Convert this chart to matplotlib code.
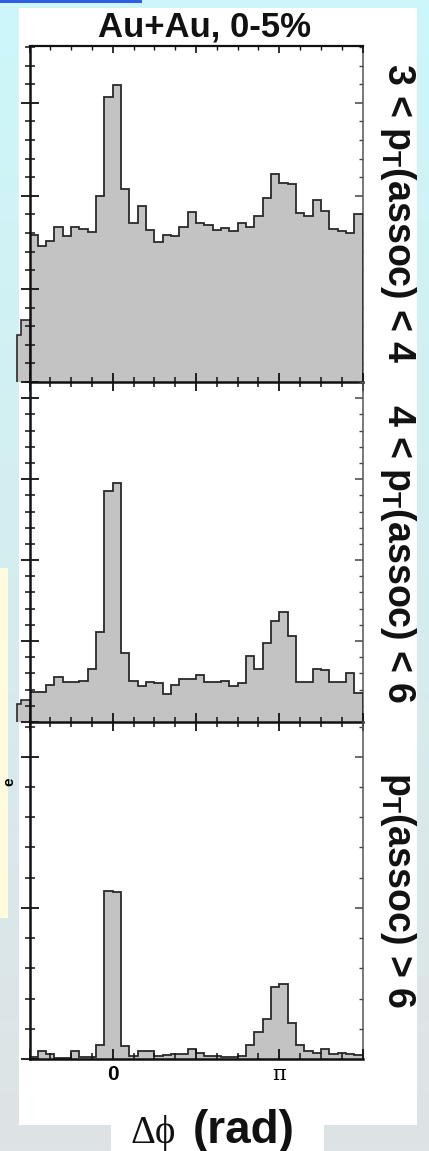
import numpy as np
import matplotlib.pyplot as plt
from matplotlib.patches import Rectangle
from matplotlib.ticker import MultipleLocator

# per-trigger yields, 40 bins of pi/20 from -pi/2 to 3pi/2
yield_3_4 = [1.58, 1.46, 1.52, 1.66, 1.57, 1.67, 1.64, 1.61, 2.00, 3.06,
             3.19, 2.07, 1.71, 1.89, 1.63, 1.50, 1.58, 1.57, 1.66, 1.83,
             1.71, 1.69, 1.63, 1.65, 1.62, 1.71, 1.67, 1.78, 1.98, 2.23,
             2.14, 2.13, 1.82, 1.78, 1.96, 1.84, 1.64, 1.62, 1.60, 1.80]
yield_4_6 = [0.37, 0.37, 0.46, 0.55, 0.49, 0.50, 0.51, 0.65, 1.11, 2.85,
             2.95, 0.85, 0.51, 0.45, 0.50, 0.48, 0.35, 0.46, 0.53, 0.53,
             0.58, 0.49, 0.49, 0.51, 0.44, 0.48, 0.82, 0.65, 0.97, 1.25,
             1.36, 1.06, 0.50, 0.50, 0.65, 0.64, 0.49, 0.50, 0.60, 0.36]
yield_6 = [0.015, 0.055, 0.035, 0.005, 0.005, 0.05, 0.01, 0.01, 0.093, 1.115,
           1.104, 0.085, 0.02, 0.055, 0.055, 0.02, 0.026, 0.031, 0.031, 0.066,
           0.038, 0.02, 0.02, 0.015, 0.015, 0.02, 0.093, 0.181, 0.263, 0.475,
           0.497, 0.236, 0.093, 0.055, 0.042, 0.066, 0.033, 0.042, 0.033, 0.026]

# pieces of the neighbouring (cut off) panel left of the axes
side_1 = [0.50, 0.67]
side_2 = [0.22, 0.27]

panel_labels = ['3 < p$\\mathregular{_T}$(assoc) < 4',
                '4 < p$\\mathregular{_T}$(assoc) < 6',
                'p$\\mathregular{_T}$(assoc) > 6']
y_top = [3.61, 4.2, 2.23]
x_ticklabels = ['', '0', '', 'π', '']

W, H = 429, 1151
fig = plt.figure(figsize=(W / 100, H / 100), dpi=100)

def fx(px):
    return px / W

def fy(py):
    return 1 - py / H

def fig_rect(x0, y0, x1, y1, color, z=-5):
    fig.add_artist(Rectangle((fx(x0), fy(y1)), fx(x1) - fx(x0), fy(y0) - fy(y1),
                             transform=fig.transFigure, facecolor=color,
                             lw=0, zorder=z))

# slide background
bg = fig.add_axes([0, 0, 1, 1], zorder=-10)
c_top = np.array([204, 247, 250]) / 255
c_bot = np.array([222, 227, 229]) / 255
t = np.linspace(0, 1, 256)[:, None]
grad = c_top + (c_bot - c_top) * t
bg.imshow(grad[:, None, :], aspect='auto', extent=[0, 1, 0, 1])
bg.axis('off')

fig_rect(19, 8, 417, 1125, 'white')
fig_rect(111, 1125, 324, 1151, 'white')
fig_rect(0, 0, 142, 3, '#2f5fe6')
fig_rect(0, 568, 8, 918, '#fffbdc')
fig.text(fx(9), fy(782), 'e', rotation=90, fontsize=11, fontweight='bold',
         ha='center', va='center', family='Liberation Sans')

edges = np.linspace(-np.pi / 2, 3 * np.pi / 2, 41)
side_edges = np.array([-0.575, -0.55, -0.5]) * np.pi
series = [yield_3_4, yield_4_6, yield_6]
sides = [side_1, side_2, None]
rows = [(46, 382), (382, 722), (722, 1059)]
label_y = [213, 554, 890]

for k, vals in enumerate(series):
    y0, y1 = rows[k]
    ax = fig.add_axes([fx(29.5), fy(y1), fx(362.5) - fx(29.5), fy(y0) - fy(y1)])
    ax.set_facecolor('none')
    ax.stairs(vals, edges, fill=True, facecolor='#c3c3c3', lw=0)
    ax.stairs(vals, edges, color='#2a2a2a', lw=1.3)
    if sides[k] is not None:
        s1 = ax.stairs(sides[k], side_edges, fill=True, facecolor='#c3c3c3', lw=0)
        s2 = ax.stairs(sides[k], side_edges, color='#2a2a2a', lw=1.2)
        s1.set_clip_on(False)
        s2.set_clip_on(False)
    ax.set_xlim(-np.pi / 2, 3 * np.pi / 2)
    ax.set_ylim(0, y_top[k])
    ax.xaxis.set_major_locator(MultipleLocator(np.pi / 2))
    ax.xaxis.set_minor_locator(MultipleLocator(np.pi / 8))
    ax.yaxis.set_major_locator(MultipleLocator(1))
    ax.yaxis.set_minor_locator(MultipleLocator(0.2))
    ax.tick_params(which='both', left=True, right=False, top=False, bottom=True,
                   labelleft=False, labelbottom=False, direction='inout',
                   color='#111')
    ax.tick_params(which='major', length=13.5, width=1.3)
    ax.tick_params(which='minor', length=7, width=1.1)
    for s in ['top', 'right']:
        ax.spines[s].set_visible(False)
    for s in ['left', 'bottom']:
        ax.spines[s].set_linewidth(1.8)
        ax.spines[s].set_color('#111')

    sec = ax.secondary_yaxis('right')
    sec.yaxis.set_major_locator(MultipleLocator(1))
    sec.yaxis.set_minor_locator(MultipleLocator(0.2))
    sec.tick_params(which='both', direction='in', labelright=False, color='#444')
    sec.tick_params(which='major', length=6, width=1.1)
    sec.tick_params(which='minor', length=3, width=1.0)
    sec.spines['right'].set_linewidth(1.1)
    sec.spines['right'].set_color('#555')

    if k == 0:
        top = ax.secondary_xaxis('top')
        top.xaxis.set_major_locator(MultipleLocator(np.pi / 2))
        top.xaxis.set_minor_locator(MultipleLocator(np.pi / 8))
        top.tick_params(which='both', direction='in', labeltop=False, color='#111')
        top.tick_params(which='major', length=5, width=1.2)
        top.tick_params(which='minor', length=3, width=1.0)
        top.spines['top'].set_linewidth(1.6)
        top.spines['top'].set_color('#111')

    if k == 2:
        ax.set_xticks(np.arange(-0.5, 1.51, 0.5) * np.pi, x_ticklabels)
        ax.tick_params(axis='x', which='both', direction='in', labelbottom=True, pad=4)
        ax.tick_params(axis='x', which='major', length=7.5)
        ax.tick_params(axis='x', which='minor', length=4)
        tl = ax.get_xticklabels()
        tl[1].set_fontfamily('Liberation Sans')
        tl[1].set_fontweight('bold')
        tl[1].set_fontsize(15)
        tl[3].set_fontfamily('DejaVu Serif')
        tl[3].set_fontsize(15)

    fig.text(fx(398), fy(label_y[k]), panel_labels[k], rotation=270,
             ha='center', va='center', fontsize=27, fontweight='bold',
             family='Liberation Sans', color='#111')

fig.text(fx(205), fy(36), 'Au+Au, 0-5%', ha='center', va='baseline',
         fontsize=25, fontweight='bold', family='Liberation Sans', color='#111')
fig.text(fx(176), fy(1143), 'Δϕ', ha='right', va='baseline', fontsize=28,
         family=['Liberation Serif', 'DejaVu Serif'], color='#111')
fig.text(fx(193), fy(1143), '(rad)', ha='left', va='baseline', fontsize=33,
         fontweight='bold', family='Liberation Sans', color='#111')

fig.savefig('out.png', dpi=100)
